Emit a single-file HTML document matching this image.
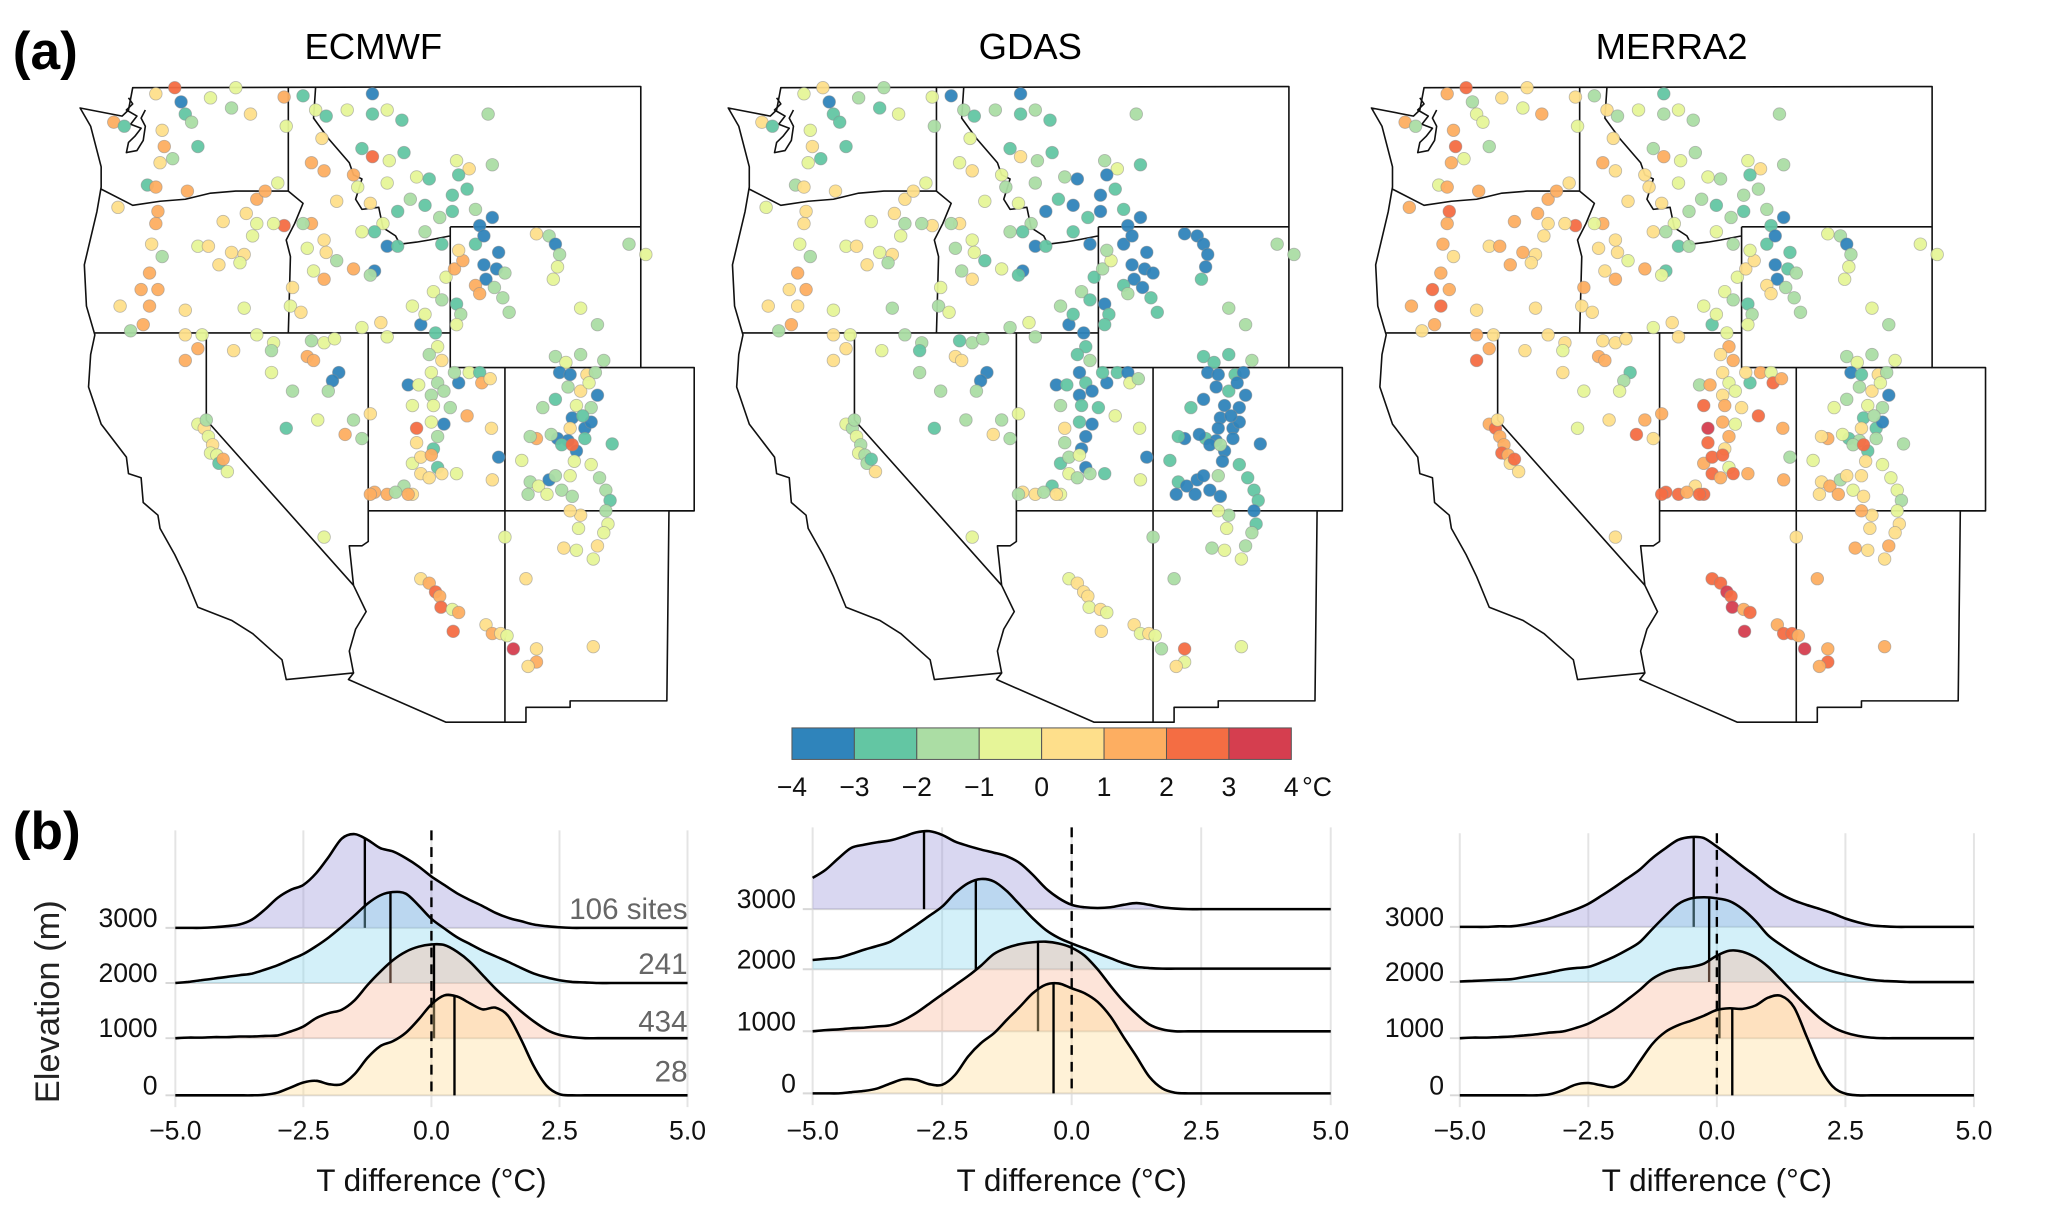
<!DOCTYPE html>
<html><head><meta charset="utf-8"><style>
html,body{margin:0;padding:0;background:#fff;}
svg{display:block;font-family:"Liberation Sans",Arial,sans-serif;}
</style></head><body>
<svg id="fig" width="2067" height="1218" viewBox="0 0 2067 1218" xmlns="http://www.w3.org/2000/svg">
<rect width="2067" height="1218" fill="#fff"/>
<g id="root" transform="scale(0.985)">
<text x="13" y="70" font-size="54" font-weight="bold">(a)</text>
<text x="13" y="862" font-size="54" font-weight="bold">(b)</text>
<text x="379" y="60" font-size="37" text-anchor="middle">ECMWF</text>
<text x="1046" y="60" font-size="37" text-anchor="middle">GDAS</text>
<text x="1697" y="60" font-size="37" text-anchor="middle">MERRA2</text>
<g id="maps"></g>
<g id="cbar"></g>
<g id="ridges"></g>
<text transform="translate(60,1017) rotate(-90)" font-size="35" text-anchor="middle" fill="#222">Elevation (m)</text>
</g>
</svg>
<script>
const NS="http://www.w3.org/2000/svg";
function mk(tag,attrs,parent){const e=document.createElementNS(NS,tag);for(const k in attrs)e.setAttribute(k,attrs[k]);if(parent)parent.appendChild(e);return e;}

// ---------- map data (site positions in map frame, values in °C) ----------
const siteX=[230,275,290,300,315,130,155,245,250,330,240,270,210,230,305,140,235,230,220,245,215,195,235,145,215,200,300,170,360,410,420,455,535,580,540,610,635,685,745,745,780,815,1020,625,720,745,600,630,700,785,820,850,880,945,975,1030,950,970,780,710,660,740,835,870,805,935,935,990,1030,1000,905,870,910,780,805,770,750,720,600,580,630,590,635,660,700,750,740,630,605,555,550,575,470,520,490,390,445,470,535,510,460,330,355,410,440,430,380,440,300,340,470,330,300,415,510,505,505,555,600,630,655,590,605,665,650,640,540,615,700,680,720,740,780,765,720,860,840,870,890,910,920,940,960,950,990,1010,1045,1010,1040,1060,1015,990,1000,1035,945,955,945,1055,1070,1135,1165,1180,1190,1185,1175,1240,1280,1355,1395,895,900,880,910,885,900,885,915,950,940,975,1000,1005,1025,830,855,840,890,930,970,885,915,900,890,850,850,840,860,885,900,910,860,880,945,1028,1045,1030,1100,820,780,750,800,840,1180,1205,1240,1295,1190,1215,1255,1275,1210,1240,1280,1260,1180,1150,1230,1265,1220,1250,1265,1245,1215,1185,1210,1230,1170,1135,1120,1195,1220,1250,1315,1225,1265,1215,1120,1140,1165,1180,1115,1160,1195,1220,1285,1300,1310,1300,1305,1295,1240,1215,1235,1280,1270,1200,1230,1060,1110,860,880,895,905,908,935,950,937,1015,1030,1050,1065,1080,1135,1135,1115,1270,630,330,345,355,365,360,375,380,390,400,350,740,830];
const siteY=[60,45,80,110,130,130,140,150,190,190,230,220,285,290,300,340,350,380,430,460,500,540,540,580,580,625,590,640,70,95,45,110,68,65,140,100,115,100,60,110,100,125,110,170,195,215,230,250,260,225,205,265,270,225,245,235,260,295,280,290,325,330,320,335,350,310,350,345,365,385,365,400,430,435,435,380,400,400,380,380,420,440,450,470,490,495,505,515,495,535,580,595,320,280,300,375,355,380,385,380,410,435,435,450,455,475,480,585,650,650,650,685,715,690,670,690,745,790,665,670,660,705,715,745,765,790,880,860,860,895,905,845,655,620,632,625,580,600,545,565,510,490,470,445,430,410,450,480,490,500,515,530,550,535,575,600,625,560,595,405,410,430,455,485,515,585,625,430,455,645,680,700,715,745,770,800,790,770,745,745,745,770,760,775,775,825,825,830,850,865,870,900,930,880,915,965,950,945,975,990,990,1000,990,880,950,1005,958,1020,1040,1035,1035,1040,705,720,700,715,745,750,750,745,780,790,800,770,810,830,825,830,855,880,865,850,880,905,910,935,895,905,900,920,920,905,918,960,968,995,1010,1020,1005,995,1040,1040,1030,1045,1000,1030,1055,1080,1110,1130,1090,1080,1120,1160,1190,1165,1170,1140,1235,1235,1245,1265,1275,1300,1305,1312,1355,1340,1360,1360,1365,1395,1395,1425,1435,1390,1140,870,880,900,920,940,945,965,955,985,860,1040,1040];
const valECMWF=[.5,2.5,-3.5,-2.5,-1.5,1.5,-2.5,.5,1.5,-2.5,.5,-1.5,-2.5,1.5,1.5,.5,1.5,1.5,.5,-1.5,1.5,1.5,1.5,.5,1.5,1.5,.5,-1.5,-.5,-1.5,-.5,.5,1.5,-2.5,-.5,-.5,-2.5,-.5,-3.5,-2.5,-.5,-2.5,-1.5,.5,-2.5,2.5,1.5,1.5,1.5,-.5,-2.5,-.5,-2.5,-.5,.5,-1.5,-2.5,-2.5,-.5,-.5,.5,.5,-1.5,-2.5,-2.5,-2.5,-2.5,-1.5,-3.5,-3.5,-1.5,-1.5,-2.5,-3.5,-2.5,-.5,-2.5,-.5,1.5,-1.5,.5,-.5,.5,-1.5,1.5,-3.5,-1.5,1.5,-.5,.5,-.5,.5,1.5,-.5,1.5,.5,.5,-.5,2.5,-.5,-.5,-.5,.5,.5,.5,-.5,.5,-.5,.5,-.5,-.5,1.5,1.5,.5,-.5,-1.5,-.5,-1.5,-1.5,-.5,-.5,1.5,1.5,-3.5,-3.5,-1.5,-2.5,-.5,-1.5,1.5,-1.5,.5,-.5,.5,-.5,-3.5,-.5,-.5,-.5,-1.5,-.5,1.5,1.5,.5,-2.5,-3.5,-3.5,-3.5,-3.5,-1.5,-3.5,1.5,1.5,-1.5,-2.5,-1.5,-.5,-1.5,-1.5,.5,-1.5,-3.5,-1.5,-.5,-.5,-.5,-1.5,-1.5,-.5,-2.5,-.5,-1.5,.5,-.5,-1.5,-1.5,-1.5,-3.5,-1.5,-.5,-2.5,1.5,.5,-3.5,-.5,-.5,-.5,-1.5,1.5,-.5,-3.5,-1.5,-2.5,2.5,.5,-.5,.5,1.5,-2.5,.5,.5,.5,-.5,.5,-3.5,.5,-.5,-1.5,1.5,1.5,-1.5,.5,-1.5,-.5,-1.5,-1.5,-3.5,-3.5,.5,-1.5,-1.5,.5,-3.5,-.5,-2.5,-1.5,-.5,-1.5,-3.5,-3.5,-3.5,-2.5,.5,-3.5,-3.5,-3.5,-1.5,1.5,-1.5,-2.5,2.5,-2.5,-2.5,-.5,-.5,-.5,-1.5,-.5,-3.5,-1.5,-1.5,-.5,-1.5,-1.5,-1.5,-1.5,-2.5,-1.5,-.5,-.5,.5,.5,-.5,.5,-.5,.5,-.5,-.5,.5,.5,1.5,2.5,1.5,2.5,-.5,1.5,2.5,.5,1.5,.5,-.5,3.5,.5,1.5,.5,.5,-.5,-.5,.5,-.5,.5,-.5,-.5,-2.5,1.5,-.5,-1.5,1.5,1.5];
const valGDAS=[-.5,.5,-3.5,-2.5,-2.5,.5,-2.5,-.5,.5,-2.5,-.5,-2.5,-1.5,.5,.5,-.5,.5,.5,-.5,-1.5,1.5,.5,1.5,.5,.5,1.5,-.5,-1.5,-1.5,-2.5,-1.5,-.5,-.5,-3.5,-1.5,-1.5,-2.5,-1.5,-3.5,-2.5,-1.5,-2.5,-1.5,-.5,-2.5,.5,-.5,.5,-.5,-1.5,-2.5,-1.5,-3.5,-1.5,-.5,-2.5,-3.5,-2.5,-1.5,-1.5,-.5,-.5,-2.5,-3.5,-3.5,-3.5,-3.5,-2.5,-3.5,-3.5,-2.5,-2.5,-3.5,-3.5,-2.5,-1.5,-2.5,-1.5,.5,-1.5,-.5,-1.5,-.5,-2.5,-.5,-3.5,-2.5,.5,-1.5,-.5,-1.5,-.5,.5,-.5,.5,-.5,.5,-1.5,.5,-1.5,-.5,-.5,.5,-.5,.5,-1.5,.5,-1.5,.5,-.5,-1.5,.5,.5,-.5,-1.5,-2.5,-1.5,-1.5,-2.5,-1.5,-1.5,.5,.5,-3.5,-3.5,-1.5,-2.5,-1.5,-1.5,.5,-1.5,-.5,-1.5,-.5,-1.5,-3.5,-1.5,-2.5,-1.5,-2.5,-2.5,-1.5,-.5,-1.5,-3.5,-3.5,-3.5,-3.5,-3.5,-3.5,-3.5,-2.5,-1.5,-3.5,-3.5,-2.5,-2.5,-2.5,-2.5,-3.5,-3.5,-3.5,-3.5,-3.5,-2.5,-1.5,-1.5,-1.5,-1.5,-3.5,-2.5,-2.5,-1.5,-3.5,-2.5,-3.5,-3.5,-3.5,-2.5,-2.5,-3.5,-.5,-1.5,-3.5,-2.5,-1.5,-2.5,-2.5,-.5,-2.5,-3.5,-3.5,-3.5,.5,-1.5,-2.5,-1.5,-.5,-3.5,-1.5,-.5,-1.5,-2.5,-.5,-3.5,-.5,-2.5,-2.5,.5,.5,-1.5,-.5,-2.5,-2.5,-2.5,-1.5,-3.5,-3.5,-2.5,-3.5,-3.5,-2.5,-3.5,-3.5,-3.5,-2.5,-3.5,-3.5,-3.5,-3.5,-3.5,-3.5,-3.5,-2.5,-3.5,-3.5,-3.5,-3.5,-2.5,-3.5,-1.5,-3.5,-3.5,-3.5,-2.5,-1.5,-2.5,-3.5,-3.5,-3.5,-3.5,-3.5,-3.5,-3.5,-2.5,-2.5,-2.5,-3.5,-2.5,-1.5,-1.5,-.5,-.5,-1.5,-.5,-1.5,-.5,-1.5,-1.5,-.5,.5,.5,.5,-.5,.5,-.5,.5,.5,-.5,.5,-.5,-1.5,2.5,-.5,.5,-.5,-.5,-.5,-1.5,-.5,-1.5,-.5,-1.5,-1.5,-2.5,.5,-1.5,-1.5,.5,.5];
const valMERRA2=[1.5,2.5,-1.5,-.5,-.5,1.5,-1.5,1.5,2.5,-1.5,1.5,-.5,-.5,1.5,1.5,1.5,2.5,1.5,1.5,.5,1.5,2.5,1.5,1.5,2.5,1.5,.5,.5,.5,-.5,.5,1.5,.5,-1.5,-.5,.5,-1.5,-.5,-2.5,-1.5,-.5,-1.5,-1.5,.5,-1.5,1.5,1.5,.5,.5,-.5,-1.5,-.5,-1.5,-.5,.5,-1.5,-2.5,-1.5,-.5,.5,.5,.5,-1.5,-2.5,-1.5,-1.5,-2.5,-1.5,-3.5,-2.5,-1.5,-.5,-1.5,-2.5,-1.5,-.5,-1.5,.5,1.5,-.5,.5,.5,.5,-.5,1.5,-2.5,-.5,1.5,.5,1.5,.5,.5,1.5,.5,1.5,1.5,1.5,.5,2.5,.5,.5,.5,1.5,1.5,.5,.5,1.5,.5,1.5,.5,.5,1.5,2.5,.5,.5,-.5,.5,-.5,.5,.5,.5,1.5,1.5,-2.5,-1.5,-.5,-.5,.5,1.5,2.5,.5,1.5,.5,.5,-.5,-2.5,-.5,-.5,-.5,-1.5,-.5,.5,.5,-.5,-2.5,-3.5,-2.5,-3.5,-2.5,-1.5,-3.5,.5,.5,-1.5,-2.5,-1.5,-.5,-1.5,-1.5,-.5,-1.5,-3.5,-1.5,-.5,-.5,-.5,-1.5,-.5,-.5,-.5,1.5,.5,1.5,.5,-.5,.5,-.5,-2.5,.5,1.5,-.5,2.5,1.5,-1.5,1.5,2.5,1.5,.5,2.5,1.5,-.5,1.5,.5,3.5,2.5,1.5,2.5,2.5,-.5,2.5,2.5,1.5,1.5,1.5,-1.5,1.5,-.5,.5,2.5,2.5,1.5,2.5,-1.5,-.5,-1.5,-.5,-3.5,-2.5,.5,-1.5,-1.5,.5,-3.5,-.5,-1.5,-.5,-.5,-1.5,-2.5,-2.5,-3.5,-1.5,.5,-2.5,-1.5,-2.5,-.5,1.5,.5,-1.5,2.5,-1.5,-1.5,.5,-.5,.5,.5,1.5,-1.5,.5,.5,1.5,-.5,.5,-.5,-.5,-1.5,-.5,.5,.5,.5,1.5,.5,1.5,.5,1.5,.5,.5,1.5,2.5,2.5,3.5,2.5,3.5,1.5,2.5,3.5,1.5,2.5,2.5,1.5,3.5,1.5,2.5,1.5,1.5,.5,1.5,2.5,1.5,1.5,2.5,1.5,.5,2.5,.5,.5,2.5,2.5];
const binEdges=[-4,-3,-2,-1,0,1,2,3,4];
const binColors=["#2f84bb","#63c6a3","#abdda4","#e6f598","#fedf8b","#fdae61","#f46d43","#d53e4f"];
const cbarLabels=["\u22124","\u22123","\u22122","\u22121","0","1","2","3","4"];

function colorFor(v){let i=Math.floor(v-binEdges[0]);i=Math.max(0,Math.min(binColors.length-1,i));return binColors[i];}

// vertical correction of map frame (projection fit)
const warpIn=[0,42,388,645,733,1080,1465,1600];
const warpOut=[0,42,378,632,715,1058,1462,1600];
function wy(y){
  for(let i=0;i<warpIn.length-1;i++){
    if(y<=warpIn[i+1]){const f=(y-warpIn[i])/(warpIn[i+1]-warpIn[i]);return warpOut[i]+f*(warpOut[i+1]-warpOut[i]);}
  }
  return y;
}
function warpPath(d){return d.replace(/(-?\d+\.?\d*),(-?\d+\.?\d*)/g,(m,a,b)=>a+','+wy(parseFloat(b)).toFixed(1));}

const outline="M175,45 L1383,42 L1383,733 L1510,733 L1510,1080 L1450,1080 L1445,1515 L1215,1515 L1215,1530 L1110,1530 L1110,1565 L920,1565 L688,1465 L700,1450 L540,1465 L530,1420 L460,1360 L410,1330 L330,1300 L300,1230 L275,1180 L240,1120 L235,1090 L200,1060 L195,1000 L165,990 L160,950 L100,870 L70,780 L75,700 L85,650 L65,580 L60,480 L90,350 L100,290 L100,240 L90,200 L75,140 L50,95 L150,115 L165,100 L175,45 Z";
const borders="M100,295 L175,335 L240,325 L300,320 L360,305 L420,300 L545,300 M545,42 L545,300 L580,330 L560,380 L540,420 L550,460 L545,645 M85,645 L930,645 M610,42 L605,120 L640,170 L690,230 L700,260 L720,270 L705,320 L720,345 L760,340 L770,390 L800,410 L810,430 L850,425 L880,420 L930,410 M930,388 L1383,388 M930,388 L930,733 L1383,733 M735,645 L735,1150 L720,1160 L690,1160 L700,1250 L730,1310 L705,1350 L690,1400 L700,1450 M350,645 L350,860 L700,1250 M1060,733 L1060,1565 M735,1080 L1510,1080 M165,70 L175,85 L160,100 L185,115 L170,135 L195,145 L180,165 L165,180 L160,205 L185,200 L200,175 L205,140 L195,120 L205,100";

const maps=document.getElementById('maps');
const panelsMap=[{tx:60,vals:valECMWF,name:'map-ecmwf'},{tx:718,vals:valGDAS,name:'map-gdas'},{tx:1371,vals:valMERRA2,name:'map-merra2'}];
panelsMap.forEach(p=>{
  const g=mk('g',{transform:`translate(${p.tx},70) scale(0.427,0.424)`},maps);
  
  
  const o=mk('path',{d:warpPath(outline),fill:'#fff',stroke:'#111','stroke-width':1.6,'vector-effect':'non-scaling-stroke','stroke-linejoin':'round'},g);
  
  
  const b=mk('path',{d:warpPath(borders),fill:'none',stroke:'#111','stroke-width':1.6,'vector-effect':'non-scaling-stroke','stroke-linejoin':'round'},g);
  
  
  for(let i=0;i<siteX.length;i++){
    const c=mk('circle',{cx:siteX[i],cy:wy(siteY[i]),r:15,fill:colorFor(p.vals[i]),stroke:'rgba(140,140,140,0.55)','stroke-width':2,'fill-opacity':0.95},g);
    
    
  }
});

// ---------- colorbar ----------
const cb=document.getElementById('cbar');
const cbX0=804,cbX1=1311,cbY=739,cbH=32;
const cbW=(cbX1-cbX0)/binColors.length;
binColors.forEach((c,i)=>{
  const r=mk('rect',{x:cbX0+i*cbW,y:cbY,width:cbW,height:cbH,fill:c,stroke:'#555','stroke-width':1},cb);
  
  
});
cbarLabels.forEach((t,i)=>{
  const x=cbX0+i*cbW;
  const tx=mk('text',{x:x,y:808,'font-size':27,'text-anchor':'middle',fill:'#111'},cb);
  tx.textContent=t;
  
  
});
const unit=mk('text',{x:cbX1+11,y:808,'font-size':27,fill:'#111'},cb);
unit.textContent="\u00B0C";



// ---------- ridgeline data ----------
const gridX=[-5,-4.75,-4.5,-4.25,-4,-3.75,-3.5,-3.25,-3,-2.75,-2.5,-2.25,-2,-1.75,-1.5,-1.25,-1,-0.75,-0.5,-0.25,0,0.25,0.5,0.75,1,1.25,1.5,1.75,2,2.25,2.5,2.75,3,3.25,3.5,3.75,4,4.25,4.5,4.75,5];
const elevLabels=["3000","2000","1000","0"];
const xTickLabels=["\u22125.0","\u22122.5","0.0","2.5","5.0"];
const xTickValues=[-5,-2.5,0,2.5,5];
const siteCounts=["106 sites","241","434","28"];
const ecmwf3000=[0,0,0,.01,.03,.06,.15,.33,.54,.68,.77,.98,1.28,1.6,1.68,1.58,1.43,1.37,1.25,1.1,.92,.77,.62,.5,.39,.27,.18,.12,.06,.03,.01,0,0,0,0,0,0,0,0,0,0];
const ecmwf2000=[0,.02,.05,.08,.11,.14,.17,.24,.32,.42,.52,.66,.82,1.01,1.21,1.42,1.57,1.63,1.6,1.39,1.15,.98,.82,.7,.58,.48,.38,.27,.17,.1,.05,.02,.01,0,0,0,0,0,0,0,0];
const ecmwf1000=[0,.01,.01,.02,.02,.03,.03,.04,.05,.12,.21,.36,.45,.51,.68,.95,1.19,1.4,1.55,1.64,1.68,1.67,1.55,1.37,1.13,.89,.68,.48,.3,.15,.06,.02,0,0,0,0,0,0,0,0,0];
const ecmwf0=[0,0,0,0,0,0,0,.01,.05,.14,.23,.26,.2,.2,.38,.67,.88,.97,1.12,1.36,1.63,1.79,1.77,1.65,1.54,1.57,1.42,1,.52,.17,.02,0,0,0,0,0,0,0,0,0,0];
const ecmwfMeans=[-1.3,-0.8,0.05,0.45];
const gdas3000=[.51,.64,.83,1.0,1.05,1.09,1.12,1.18,1.25,1.27,1.21,1.1,1.03,.97,.92,.86,.75,.56,.34,.18,.07,.03,.02,.03,.07,.1,.07,.03,.01,0,0,0,0,0,0,0,0,0,0,0,0];
const gdas2000=[.15,.17,.19,.25,.32,.38,.45,.58,.72,.87,1.02,1.24,1.4,1.47,1.43,1.27,1.05,.83,.64,.51,.42,.34,.26,.18,.1,.04,.02,.01,.01,.01,.01,.01,.01,.01,.01,.01,.01,.01,.01,.01,.01];
const gdas1000=[0,.02,.03,.05,.06,.08,.1,.18,.3,.45,.6,.75,.9,1.07,1.26,1.36,1.42,1.45,1.46,1.43,1.36,1.23,1.01,.74,.49,.28,.11,.03,0,0,0,0,0,0,0,0,0,0,0,0,0];
const gdas0=[0,0,0,.02,.04,.08,.16,.23,.22,.15,.14,.3,.6,.82,.98,1.2,1.41,1.63,1.77,1.79,1.71,1.63,1.49,1.25,.92,.6,.27,.08,.01,0,0,0,0,0,0,0,0,0,0,0,0];
const gdasMeans=[-2.85,-1.85,-0.65,-0.35];
const merra3000=[0,0,0,.01,.01,.04,.09,.15,.23,.31,.41,.55,.7,.86,1.02,1.23,1.4,1.55,1.6,1.58,1.43,1.26,1.08,.91,.73,.58,.47,.39,.32,.24,.15,.08,.03,.01,0,0,0,0,0,0,0];
const merra2000=[.01,.02,.03,.04,.05,.09,.13,.17,.22,.25,.27,.35,.45,.57,.71,.95,1.18,1.39,1.49,1.51,1.49,1.44,1.3,1.09,.83,.66,.51,.38,.27,.19,.13,.08,.04,.02,.01,0,0,0,0,0,0];
const merra1000=[0,.01,.01,.02,.03,.05,.07,.1,.12,.18,.26,.38,.51,.68,.86,1.06,1.18,1.24,1.27,1.33,1.47,1.56,1.54,1.44,1.27,1.04,.8,.57,.36,.2,.1,.04,.01,0,0,0,0,0,0,0,0];
const merra0=[0,0,0,0,0,0,0,.02,.09,.19,.22,.18,.15,.28,.6,.92,1.13,1.25,1.33,1.42,1.52,1.55,1.54,1.6,1.74,1.77,1.57,1.04,.51,.16,.03,0,0,0,0,0,0,0,0,0,0];
const merraMeans=[-0.45,-0.15,0.05,0.3];

const ridgeFills=["rgba(150,145,215,0.36)","rgba(140,215,238,0.38)","rgba(250,180,150,0.36)","rgba(255,222,150,0.38)"];
const ridgePanels=[
 {name:'ecmwf',x0:178,x1:698,base:[942,998,1054,1112],top:843,lab:160,series:[ecmwf3000,ecmwf2000,ecmwf1000,ecmwf0],means:ecmwfMeans,counts:true},
 {name:'gdas',x0:825,x1:1351,base:[923,984,1047,1110],top:840,lab:808,series:[gdas3000,gdas2000,gdas1000,gdas0],means:gdasMeans,counts:false},
 {name:'merra2',x0:1482,x1:2004,base:[941,997,1054,1112],top:846,lab:1466,series:[merra3000,merra2000,merra1000,merra0],means:merraMeans,counts:false}
];

function smoothPath(pts){
  let d=`M${pts[0][0]},${pts[0][1]}`;
  for(let i=0;i<pts.length-1;i++){
    const p0=pts[Math.max(0,i-1)],p1=pts[i],p2=pts[i+1],p3=pts[Math.min(pts.length-1,i+2)];
    const c1x=p1[0]+(p2[0]-p0[0])/6,c1y=p1[1]+(p2[1]-p0[1])/6;
    const c2x=p2[0]-(p3[0]-p1[0])/6,c2y=p2[1]-(p3[1]-p1[1])/6;
    d+=` C${c1x.toFixed(1)},${c1y.toFixed(1)} ${c2x.toFixed(1)},${c2y.toFixed(1)} ${p2[0].toFixed(1)},${p2[1].toFixed(1)}`;
  }
  return d;
}
function interp(arr,v){
  const t=(v-gridX[0])/(gridX[1]-gridX[0]);const i=Math.max(0,Math.min(arr.length-2,Math.floor(t)));const f=t-i;
  return arr[i]*(1-f)+arr[i+1]*f;
}

const ridges=document.getElementById('ridges');
ridgePanels.forEach(P=>{
  const g=mk('g',{},ridges);
  
  
  const xs=v=>P.x0+(v-gridX[0])/(gridX[gridX.length-1]-gridX[0])*(P.x1-P.x0);
  const sp=(P.base[3]-P.base[0])/3;
  const ys=(k,h)=>P.base[k]-h*sp;
  const bottom=P.base[3];
  xTickValues.forEach((v,i)=>{
    const l=mk('line',{x1:xs(v),x2:xs(v),y1:P.top,y2:bottom+12,stroke:'#e4e4e4','stroke-width':2},g);
    
    
    const t=mk('text',{x:xs(v),y:1157,'font-size':27,'text-anchor':'middle',fill:'#111'},g);
    t.textContent=xTickLabels[i];
    
    
  });
  P.base.forEach((b,k)=>{
    const l=mk('line',{x1:P.x0-10,x2:P.x1,y1:b,y2:b,stroke:'#d8d8d8','stroke-width':2},g);
    
    
    const t=mk('text',{x:P.lab,y:b-1,'font-size':27,'text-anchor':'end',fill:'#111'},g);
    t.textContent=elevLabels[k];
    
    
  });
  P.series.forEach((arr,k)=>{
    const pts=gridX.map((v,i)=>[xs(v),ys(k,arr[i])]);
    const line=smoothPath(pts);
    const f=mk('path',{d:line+` L${P.x1},${P.base[k]} L${P.x0},${P.base[k]} Z`,fill:ridgeFills[k],stroke:'none'},g);
    
    
    const s=mk('path',{d:line,fill:'none',stroke:'#000','stroke-width':2.6,'stroke-linejoin':'round'},g);
    
    
    const m=P.means[k];
    const ml=mk('line',{x1:xs(m),x2:xs(m),y1:P.base[k],y2:ys(k,interp(arr,m)),stroke:'#000','stroke-width':2.4},g);
    
    
  });
  const z=mk('line',{x1:xs(0),x2:xs(0),y1:P.top,y2:bottom,stroke:'#000','stroke-width':2.4,'stroke-dasharray':'10,7'},g);
  
  
  const xt=mk('text',{x:(P.x0+P.x1)/2,y:1209,'font-size':32,'text-anchor':'middle',fill:'#111'},g);
  xt.textContent="T difference (\u00B0C)";
  
  
  if(P.counts){
    const cy=[933,989,1047,1098];
    siteCounts.forEach((c,k)=>{
      const t=mk('text',{x:P.x1,y:cy[k],'font-size':30,'text-anchor':'end',fill:'#666'},g);
      t.textContent=c;
      
      
    });
  }
});
</script>
</body></html>
